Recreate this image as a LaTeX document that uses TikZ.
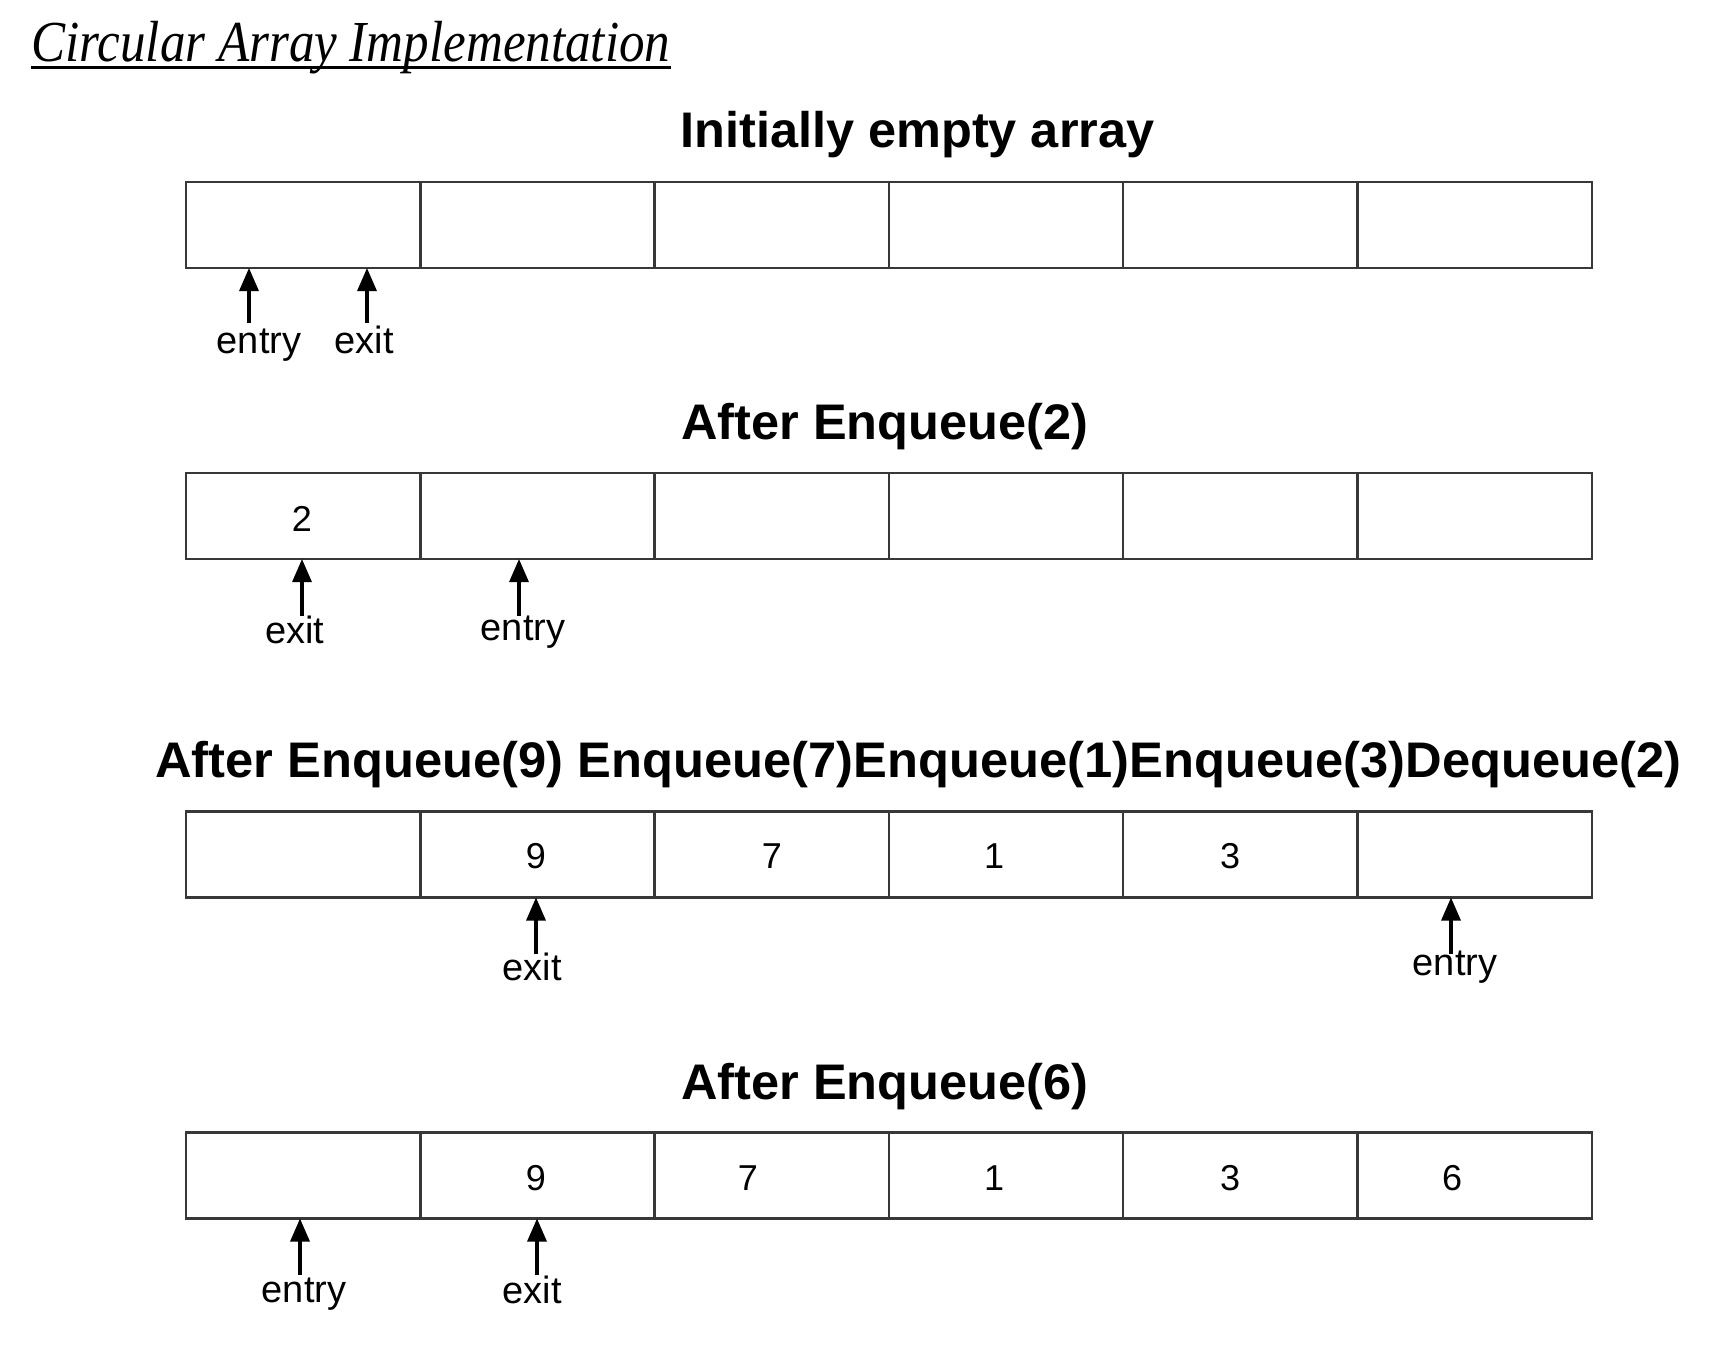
\documentclass[tikz,border=0pt]{standalone}
\usepackage{fontspec}
\usepackage{graphicx}
\setmainfont{Liberation Sans}
\newfontfamily\headfont{Liberation Serif}
\usetikzlibrary{arrows.meta}

% set a text to a given width, keeping its height
\newcommand\fitwidth[2]{\resizebox{#1}{\height}{#2}}

\begin{document}
\begin{tikzpicture}[x=0.5pt,y=-0.5pt,
  cell/.style={draw=black!78,line width=1.2pt,minimum width=117.15pt,
    minimum height=43pt,inner sep=0pt,outer sep=0pt},
  title/.style={anchor=base west,inner sep=0pt,
    font=\bfseries\fontsize{25}{30}\selectfont},
  val/.style={anchor=base,inner sep=0pt,font=\fontsize{18}{22}\selectfont},
  lbl/.style={anchor=base,inner sep=0pt,font=\fontsize{19}{23}\selectfont},
  ptr/.style={line width=1.6pt,-{Triangle[width=9.5pt,length=11.5pt]}}]

% page frame
\useasboundingbox[fill=white] (0,0) rectangle (1734,1348);

% heading
\node[anchor=base west,inner sep=0pt,
  font=\headfont\itshape\fontsize{29}{34}\selectfont] (head) at (31,62)
  {\fitwidth{319.5pt}{Circular Array Implementation}};
\draw[line width=1.5pt] ([yshift=-3pt]head.base west) -- ([yshift=-3pt]head.base east);

% titles
\node[title] (t1) at (680,148) {\fitwidth{237pt}{Initially empty array}};
\node[title] (t2) at (681,439) {\fitwidth{203.5pt}{After Enqueue(2)}};
\node[title] (t3) at (155,777)
  {\fitwidth{763pt}{After Enqueue(9) Enqueue(7)Enqueue(1)Enqueue(3)Dequeue(2)}};
\node[title] (t4) at (681,1099) {\fitwidth{203.5pt}{After Enqueue(6)}};

% the four arrays, six cells each
\foreach \r/\y in {1/225,2/516,3/854.5,4/1175.5}
  \foreach \i in {1,...,6}
    \node[cell] (r\r c\i) at ({186+234.3*(\i-0.5)},\y) {};

% stored values
\node[val] (v21) at (302,531) {2};
\node[val] (v32) at (536,868) {9};
\node[val] (v33) at (772,868) {7};
\node[val] (v34) at (994,868) {1};
\node[val] (v35) at (1230,868) {3};
\node[val] (v42) at (536,1190) {9};
\node[val] (v43) at (748,1190) {7};
\node[val] (v44) at (994,1190) {1};
\node[val] (v45) at (1230,1190) {3};
\node[val] (v46) at (1452,1190) {6};

% pointer labels
\node[lbl] (en1) at (259,353) {entry};
\node[lbl] (ex1) at (364,353) {exit};
\node[lbl] (ex2) at (295,643) {exit};
\node[lbl] (en2) at (523,640) {entry};
\node[lbl] (ex3) at (532,980) {exit};
\node[lbl] (en3) at (1455,975) {entry};
\node[lbl] (en4) at (304,1302) {entry};
\node[lbl] (ex4) at (532,1303) {exit};

% pointer feet
\coordinate (pen1) at (249,323);
\coordinate (pex1) at (367,323);
\coordinate (pex2) at (302,616);
\coordinate (pen2) at (519,616);
\coordinate (pex3) at (536,954);
\coordinate (pen3) at (1451,954);
\coordinate (pen4) at (300,1275);
\coordinate (pex4) at (537,1275);

% pointers
\draw[ptr] (pen1) -- (pen1 |- r1c1.south);
\draw[ptr] (pex1) -- (pex1 |- r1c2.south);
\draw[ptr] (pex2) -- (pex2 |- r2c1.south);
\draw[ptr] (pen2) -- (pen2 |- r2c2.south);
\draw[ptr] (pex3) -- (pex3 |- r3c2.south);
\draw[ptr] (pen3) -- (pen3 |- r3c6.south);
\draw[ptr] (pen4) -- (pen4 |- r4c1.south);
\draw[ptr] (pex4) -- (pex4 |- r4c2.south);
\end{tikzpicture}
\end{document}
